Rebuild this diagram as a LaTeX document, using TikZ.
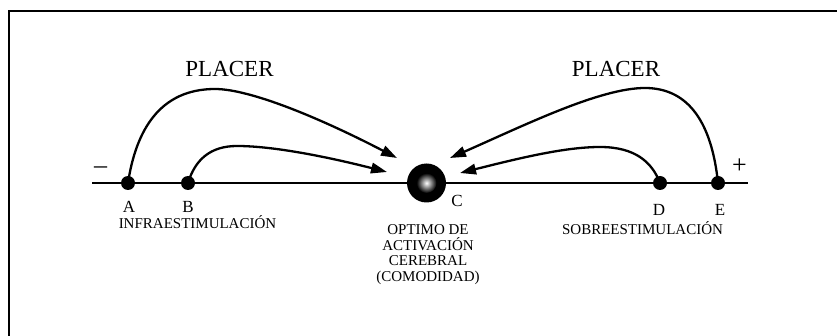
\documentclass[tikz,border=0pt]{standalone}
\usepackage{fontspec}
\setmainfont{Liberation Serif}
\usetikzlibrary{arrows.meta}

\begin{document}
\begin{tikzpicture}[x=1pt,y=-1pt,
  dot/.style={circle,fill=black,inner sep=0pt,minimum size=14pt},
  axisline/.style={line width=2.3pt},
  placerarrow/.style={line width=2.3pt,-{Triangle[length=16pt,width=10.5pt]}},
  letter/.style={anchor=base,inner sep=0pt,font=\fontsize{17}{17}\selectfont},
  zone/.style={anchor=base,inner sep=0pt,text height=10.5pt,font=\fontsize{15}{15}\selectfont},
  title/.style={anchor=base,inner sep=0pt,font=\fontsize{23}{23}\selectfont},
  sign/.style={anchor=center,inner sep=0pt,font=\fontsize{26}{26}\selectfont}]

\useasboundingbox (0,0) rectangle (837,336);

% frame (top and left edges)
\draw[line width=2.6pt] (9,336) -- (9,11) -- (837,11);

% stimulation axis
\coordinate (axL) at (92,183);
\coordinate (axR) at (748,183);
\draw[axisline] (axL) -- (axR);

% points on the axis
\node[dot] (A) at (128,183) {};
\node[dot] (B) at (188,183) {};
\node[dot] (D) at (660,183) {};
\node[dot] (E) at (718,183) {};

% optimum: black disc with a bright core
\node[circle,fill=black,inner sep=0pt,minimum size=39pt] (C) at (426.5,183) {};
\shade[inner color=white,outer color=black] (C.center) circle (10);

% arrow tips near the optimum
\coordinate (tA) at (397,158);
\coordinate (tB) at (387,172);
\coordinate (tE) at (450,158);
\coordinate (tD) at (460,173);

% pleasure arrows
\draw[placerarrow] (A.center) .. controls (136,130) and (160,89) .. (215,89)
  .. controls (250,89) and (320,118) .. (tA);
\draw[placerarrow] (B.center) .. controls (195,160) and (210,146) .. (237,146)
  .. controls (270,146) and (320,155) .. (tB);
\draw[placerarrow] (E.center) .. controls (712,125) and (690,88) .. (645,88)
  .. controls (600,88) and (525,125) .. (tE);
\draw[placerarrow] (D.center) .. controls (652,162) and (635,147) .. (600,147)
  .. controls (565,147) and (520,158) .. (tD);

% titles
\node[title] (pl) at (229.5,77) {PLACER};
\node[title] (pr) at (616,77) {PLACER};

% axis signs
\node[sign] (minus) at (100.5,170) {–};
\node[sign] (plus) at (739.5,166) {+};

% point letters
\node[letter] (lA) at (129,213) {A};
\node[letter] (lB) at (188,213) {B};
\node[letter] (lC) at (457,207) {C};
\node[letter] (lD) at (659,216) {D};
\node[letter] (lE) at (720,216) {E};

% zone captions
\node[zone] (infra) at (197.5,228.5) {INFRAESTIMULACIÓN};
\node[zone] (sobre) at (642.5,235) {SOBREESTIMULACIÓN};
\node[zone] (opt1) at (428,235) {OPTIMO DE};
\node[zone] (opt2) at (428,250.5) {ACTIVACIÓN};
\node[zone] (opt3) at (428,266) {CEREBRAL};
\node[zone] (opt4) at (428,281.5) {(COMODIDAD)};

\end{tikzpicture}
\end{document}
